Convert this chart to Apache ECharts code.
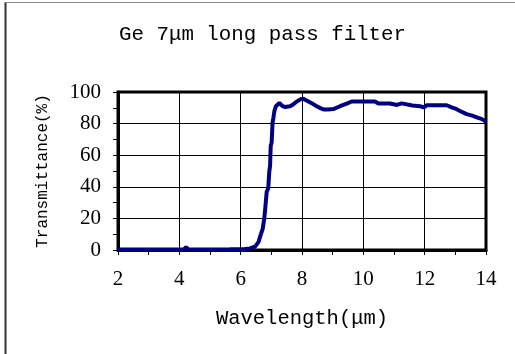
<!DOCTYPE html>
<html>
<head>
<meta charset="utf-8">
<script src="https://cdn.jsdelivr.net/npm/echarts@6/dist/echarts.min.js"></script>
<style>html,body{margin:0;padding:0;background:#fff}#c{width:515px;height:354px}</style>
</head>
<body>
<div id="c"></div>
<script>
var titleText = 'Ge 7μm long pass filter';
var xName = 'Wavelength(μm)';
var yName = 'Transmittance(%)';
var wavelength = [2.0, 3.0, 4.0, 4.15, 4.22, 4.3, 5.0, 5.65, 6.1, 6.3, 6.47, 6.58, 6.65, 6.72, 6.77, 6.80, 6.85, 6.90, 6.93, 6.96, 6.98, 7.01, 7.04, 7.07, 7.10, 7.15, 7.20, 7.26, 7.32, 7.37, 7.45, 7.50, 7.61, 7.70, 7.83, 7.96, 8.04, 8.10, 8.21, 8.35, 8.48, 8.60, 8.70, 8.85, 9.02, 9.24, 9.46, 9.62, 10.0, 10.38, 10.49, 10.87, 10.92, 11.1, 11.25, 11.30, 11.6, 11.85, 11.96, 12.07, 12.4, 12.72, 12.88, 13.0, 13.15, 13.37, 13.55, 13.70, 13.85, 14.0];
var transmittance = [0.3, 0.3, 0.3, 0.4, 1.8, 0.4, 0.3, 0.4, 0.5, 1.0, 2.2, 5.0, 9.4, 13.6, 20, 26, 37, 39, 49, 53.5, 66, 68, 80.7, 84, 88, 91, 92, 93, 92, 91, 90.5, 90.3, 91, 92, 94, 95.5, 95.8, 95.5, 94, 92.5, 91, 89.8, 89, 89, 89.2, 91, 92.7, 94, 94, 94, 92.7, 92.7, 91.8, 91.8, 92.8, 91.8, 91.5, 91, 90.2, 91.6, 91.6, 91.6, 90.3, 89.5, 88, 86, 85, 84, 83, 81.3];

var pts = wavelength.map(function (w, i) { return [w, transmittance[i]]; });
var chart = echarts.init(document.getElementById('c'), null, {renderer: 'canvas'});
var mono = '"Liberation Mono", "DejaVu Sans Mono", monospace';
var serif = '"Liberation Serif", "DejaVu Serif", serif';
chart.setOption({
  animation: false,
  backgroundColor: '#ffffff',
  title: {
    text: titleText,
    left: 114,
    top: 19,
    textStyle: {fontFamily: mono, fontSize: 20.8, fontWeight: 'normal', color: '#000'}
  },
  grid: {left: 118, right: 29, top: 92, bottom: 104, show: true, borderColor: '#000', borderWidth: 3, backgroundColor: 'transparent'},
  xAxis: {
    type: 'value', min: 2, max: 14, interval: 2,
    name: xName, nameLocation: 'middle', nameGap: 58,
    nameTextStyle: {fontFamily: mono, fontSize: 20.5, color: '#000'},
    axisLine: {show: true, lineStyle: {color: '#000', width: 3}},
    axisTick: {show: true, inside: false, length: 5, lineStyle: {color: '#000', width: 1}},
    minorTick: {show: true, splitNumber: 2, length: 5, lineStyle: {color: '#000', width: 1}},
    axisLabel: {fontFamily: serif, fontSize: 21, color: '#000', margin: 19},
    splitLine: {show: true, lineStyle: {color: '#000', width: 1}}
  },
  yAxis: {
    type: 'value', min: 0, max: 100, interval: 20,
    name: yName, nameLocation: 'middle', nameGap: 67,
    nameTextStyle: {fontFamily: mono, fontSize: 16, color: '#000'},
    axisLine: {show: true, lineStyle: {color: '#000', width: 3}},
    axisTick: {show: true, inside: false, length: 5, lineStyle: {color: '#000', width: 1}},
    minorTick: {show: true, splitNumber: 2, length: 5, lineStyle: {color: '#000', width: 1}},
    axisLabel: {fontFamily: serif, fontSize: 21, color: '#000', margin: 17},
    splitLine: {show: true, lineStyle: {color: '#000', width: 1}}
  },
  series: [{
    type: 'line', data: pts, showSymbol: false, smooth: false,
    lineStyle: {color: '#000080', width: 4}, z: 3
  }],
  graphic: [
    {type: 'line', shape: {x1: 5.5, y1: 2, x2: 5.5, y2: 354}, style: {stroke: '#333', lineWidth: 2}},
    {type: 'line', shape: {x1: 5, y1: 2.5, x2: 515, y2: 2.5}, style: {stroke: '#888', lineWidth: 1}}
  ]
});
</script>
</body>
</html>
